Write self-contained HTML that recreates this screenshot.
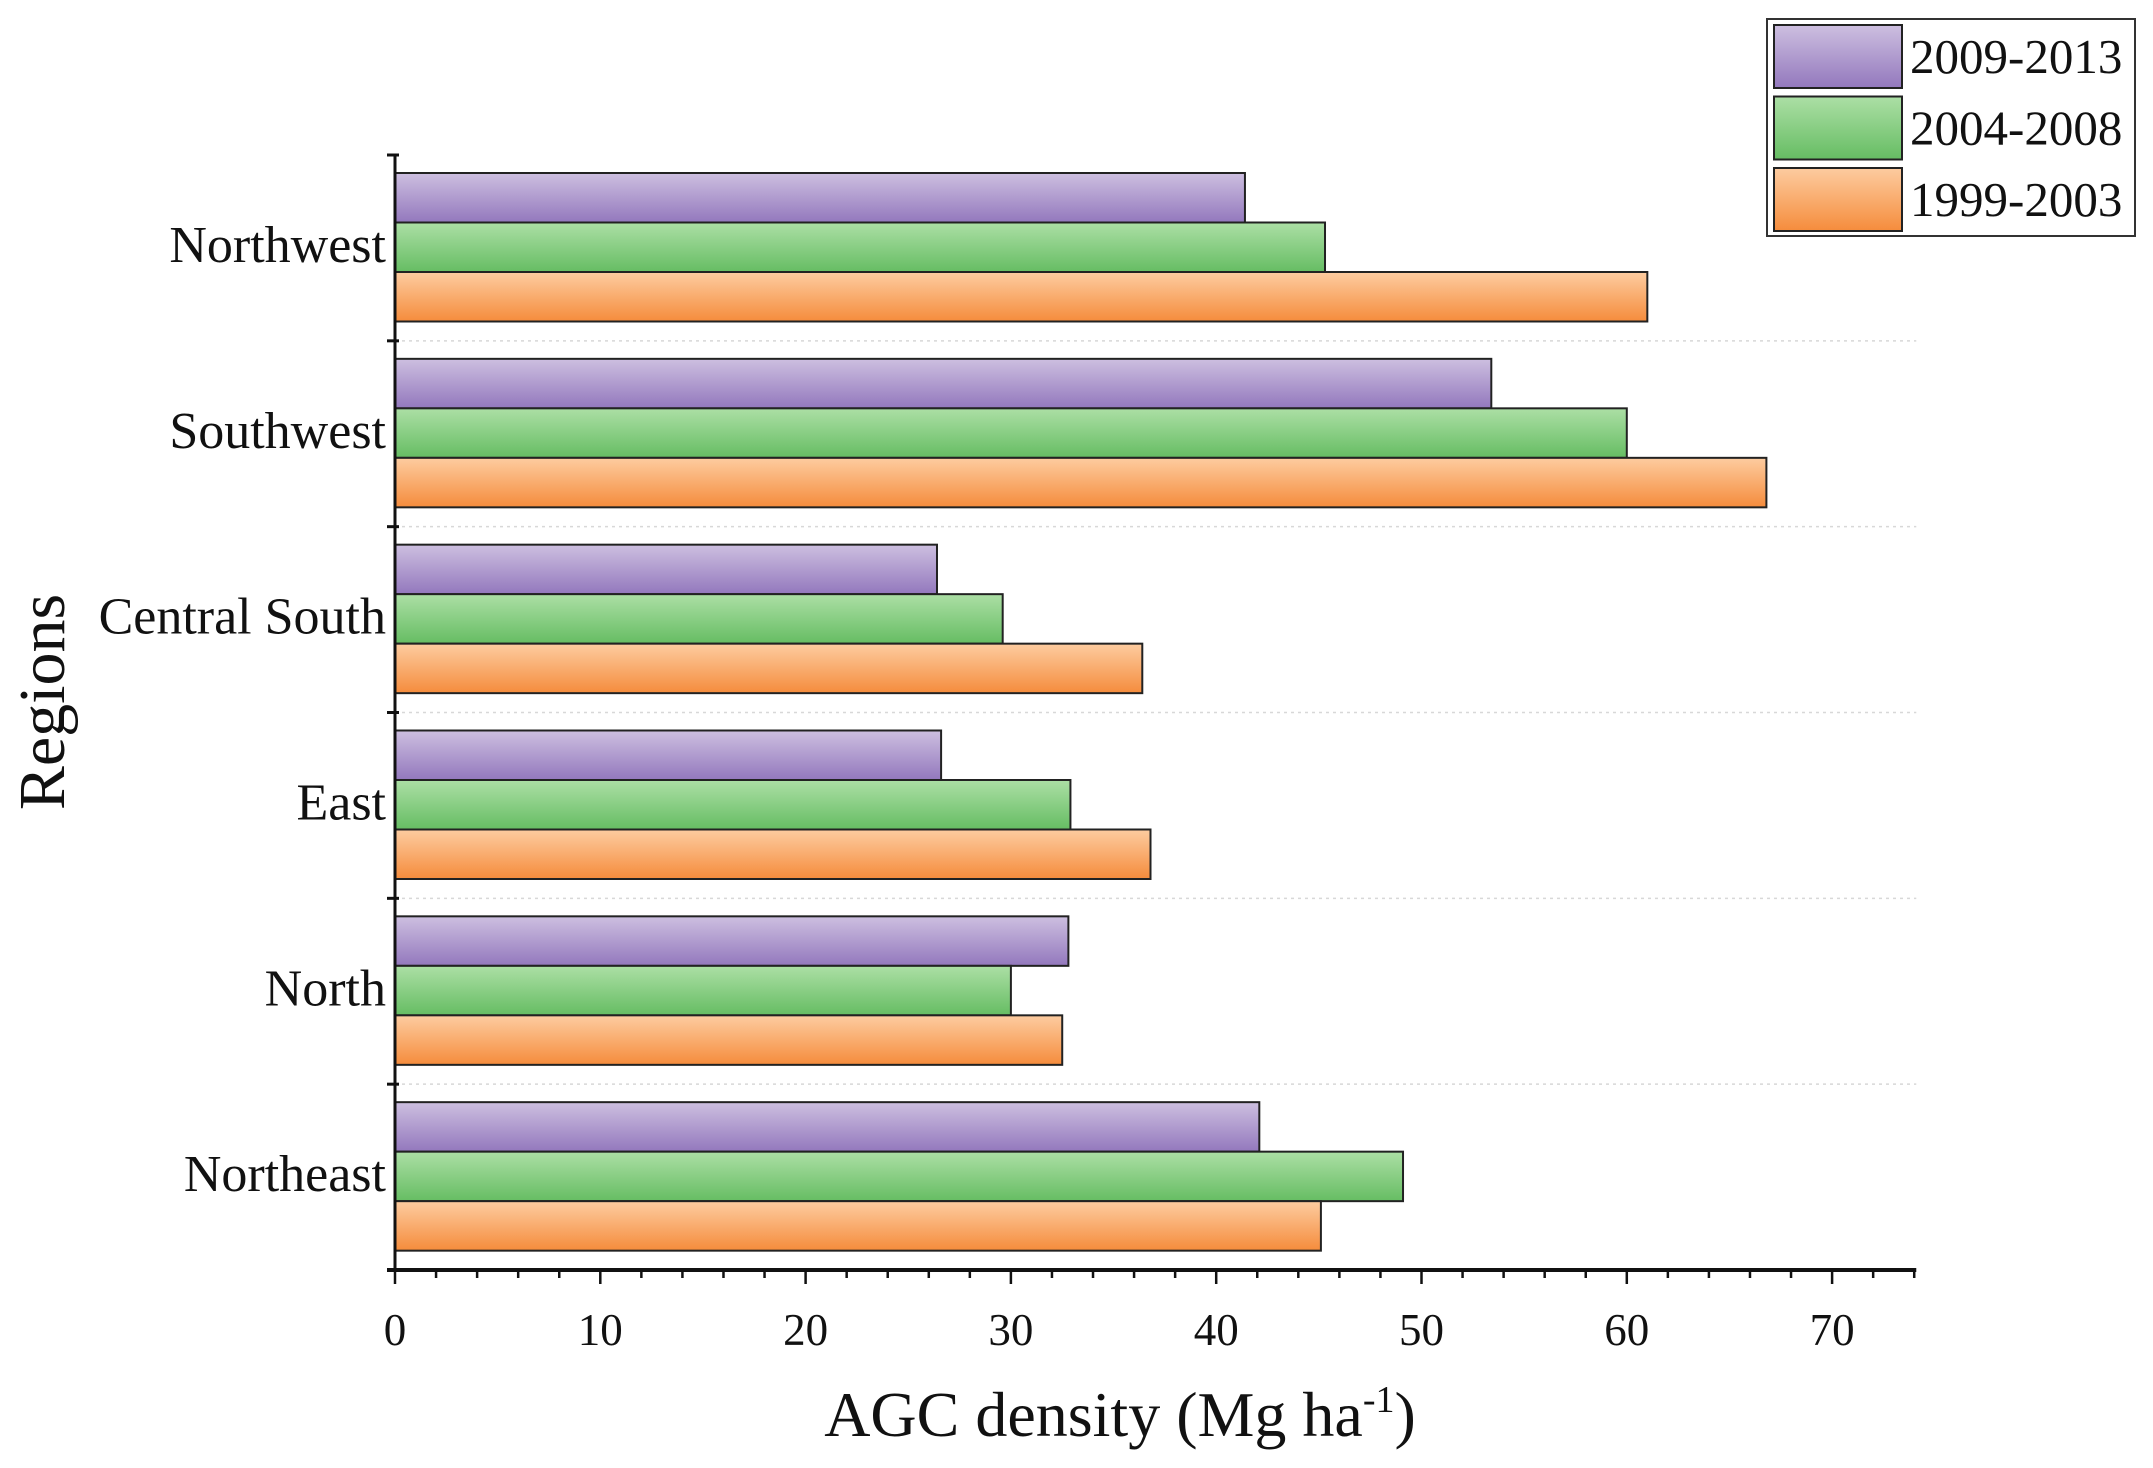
<!DOCTYPE html>
<html><head><meta charset="utf-8"><style>
html,body{margin:0;padding:0;background:#fff;}
svg{display:block;font-family:"Liberation Serif",serif;}
</style></head><body>
<svg id="chart" width="2153" height="1468" viewBox="0 0 2153 1468">
<defs>
<linearGradient id="gP" x1="0" y1="0" x2="0" y2="1"><stop offset="0" stop-color="#cdbfe0"/><stop offset="1" stop-color="#9378bd"/></linearGradient>
<linearGradient id="gG" x1="0" y1="0" x2="0" y2="1"><stop offset="0" stop-color="#acdfa5"/><stop offset="1" stop-color="#66bd63"/></linearGradient>
<linearGradient id="gO" x1="0" y1="0" x2="0" y2="1"><stop offset="0" stop-color="#fdcca0"/><stop offset="1" stop-color="#f58c3c"/></linearGradient>
</defs>
<g id="plot"></g>
</svg>
<script>
const regions = ["Northwest","Southwest","Central South","East","North","Northeast"];
const seriesNames = ["2009-2013","2004-2008","1999-2003"];
const s2009 = [41.4, 53.4, 26.4, 26.6, 32.8, 42.1];
const s2004 = [45.3, 60.0, 29.6, 32.9, 30.0, 49.1];
const s1999 = [61.0, 66.8, 36.4, 36.8, 32.5, 45.1];
const xTicks = [0,10,20,30,40,50,60,70];

const NS="http://www.w3.org/2000/svg";
const g=document.getElementById('plot');
const X0=395, PX=20.53, XMAX=74.1, TOP=155, BOT=1270;
const gh=(BOT-TOP)/regions.length;
const xs=v=>X0+v*PX;
function mk(t,a){const e=document.createElementNS(NS,t);for(const k in a)e.setAttribute(k,a[k]);g.appendChild(e);return e;}

const series=[s2009,s2004,s1999];
const fills=["url(#gP)","url(#gG)","url(#gO)"];
const keys=["2009-2013","2004-2008","1999-2003"];
for(let i=1;i<regions.length;i++){
  const y=TOP+i*gh;
  const l=mk('line',{x1:X0,x2:xs(XMAX),y1:y,y2:y,stroke:'#d8d8d8','stroke-width':1.5,'stroke-dasharray':'3,4'});
  
  
}
regions.forEach((r,i)=>{
  const gy=TOP+i*gh;
  const bh=49.5;
  series.forEach((s,j)=>{
    const y=gy+18+j*bh;
    const b=mk('rect',{x:X0,y:y,width:xs(s[i])-X0,height:bh,fill:fills[j],stroke:'#222','stroke-width':2});
    
    
  });
  const t=mk('text',{x:386,y:gy+gh/2+14,'text-anchor':'end','font-size':52,fill:'#111'});
  t.textContent=r;
  
  
});
for(let i=0;i<=regions.length;i++){
  const y=TOP+i*gh;
  const l=mk('line',{x1:387,x2:X0+4,y1:y,y2:y,stroke:'#111','stroke-width':3});
  
  
}
const ya=mk('line',{x1:X0,x2:X0,y1:TOP,y2:BOT,stroke:'#111','stroke-width':3});


const xa=mk('line',{x1:X0-8,x2:xs(XMAX),y1:BOT,y2:BOT,stroke:'#111','stroke-width':4});


for(let v=0;v<=XMAX;v+=2){
  const major=v%10===0;
  const l=mk('line',{x1:xs(v),x2:xs(v),y1:BOT,y2:BOT+(major?14:8),stroke:'#111','stroke-width':2.5});
  
  
}
xTicks.forEach(v=>{
  const t=mk('text',{x:xs(v),y:1345,'text-anchor':'middle','font-size':45,fill:'#111'});
  t.textContent=v;
  
  
});
const xt=mk('text',{x:1120,y:1436,'text-anchor':'middle','font-size':64,fill:'#111'});
xt.innerHTML='AGC density (Mg ha<tspan dy="-24" font-size="38">-1</tspan><tspan dy="24">)</tspan>';


const yt=mk('text',{x:0,y:0,'text-anchor':'middle','font-size':66,fill:'#111',transform:'translate(64,702) rotate(-90)'});
yt.textContent='Regions';


const lb=mk('rect',{x:1767,y:19,width:368,height:217,fill:'#fff',stroke:'#333','stroke-width':2});


seriesNames.forEach((n,j)=>{
  const y=25+j*71.5;
  const sw=mk('rect',{x:1774,y:y,width:128,height:63,fill:fills[j],stroke:'#222','stroke-width':2});
  
  
  const t=mk('text',{x:1910,y:y+48,'font-size':49,fill:'#111'});
  t.textContent=n;
  
  
});
</script>
</body></html>
